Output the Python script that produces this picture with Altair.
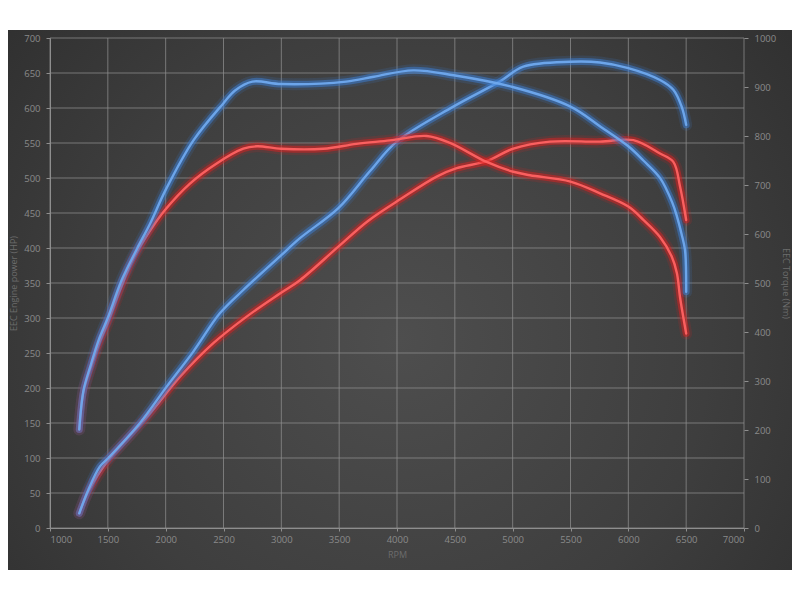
import altair as alt
import pandas as pd

# ---- data ----
tuned_power_rpm = [1253, 1330, 1432, 1504, 1778, 2009, 2239, 2470, 2671, 2988, 3161, 3493, 3767,
                   3997, 4487, 4890, 5092, 5496, 5755, 6000, 6274, 6389, 6461, 6500]
tuned_power_hp = [21, 54, 88, 100, 150, 202, 252, 307, 340, 388, 414, 457, 510,
                  552, 602, 638, 659, 666, 665, 657, 640, 626, 602, 576]

stock_power_rpm = [1253, 1330, 1504, 1865, 2124, 2412, 2700, 2988, 3161, 3493, 3752, 4041, 4343,
                   4516, 4775, 5006, 5323, 5755, 6043, 6274, 6389, 6447, 6500]
stock_power_hp = [21, 52, 97, 164, 216, 264, 302, 335, 354, 402, 439, 471, 502,
                  514, 524, 542, 552, 552, 554, 535, 523, 488, 440]

tuned_torque_rpm = [1253, 1290, 1350, 1420, 1500, 1620, 1750, 1865, 2000, 2240, 2500, 2600, 2750,
                    3000, 3560, 3800, 4140, 4490, 5000, 5500, 5760, 6000, 6130, 6275, 6380, 6420,
                    6460, 6490, 6500]
tuned_torque_nm = [201, 281, 331, 383, 429, 506, 569, 621, 690, 791, 867, 893, 911,
                   906, 911, 921, 934, 924, 900, 860, 819, 779, 750, 714, 664, 636,
                   600, 567, 482]

stock_torque_rpm = [1253, 1290, 1350, 1420, 1500, 1605, 1720, 1865, 1994, 2210, 2441, 2671, 2790,
                    3000, 3363, 3650, 3940, 4256, 4458, 4775, 5006, 5150, 5500, 5755, 6000, 6130,
                    6274, 6375, 6420, 6447, 6500]
stock_torque_nm = [201, 279, 326, 374, 420, 486, 550, 607, 649, 703, 744, 774, 779,
                   774, 774, 784, 791, 800, 786, 747, 727, 720, 707, 683, 656, 629,
                   594, 554, 520, 471, 397]

x_ticks = list(range(1000, 7001, 500))
hp_ticks = list(range(0, 701, 50))
nm_ticks = list(range(0, 1001, 100))

W, H = 694, 490

label_color = "#8a8a8a"
title_color = "#6c6c6c"
grid_color = "#8e8e8e"
font = "Open Sans"

x_scale = alt.Scale(domain=[1000, 7000], nice=False, zero=False)
hp_scale = alt.Scale(domain=[0, 700], nice=False)
nm_scale = alt.Scale(domain=[0, 1000], nice=False)

x_enc = alt.X(
    "rpm:Q", scale=x_scale,
    axis=alt.Axis(values=x_ticks, title="RPM", format="d", grid=False, zindex=1,
                  domainColor=grid_color, tickColor=grid_color, tickSize=3, labelPadding=3,
                  titleX=W / 2, titleY=22, titleAlign="center"),
)

y_hp = alt.Y(
    "hp:Q", scale=hp_scale,
    axis=alt.Axis(values=hp_ticks, orient="left", title="EEC Engine power (HP)", grid=False,
                  format="d", zindex=1, domainColor=grid_color, tickColor=grid_color,
                  tickSize=4, labelPadding=6, titleAngle=-90, titleX=-37, titleY=H / 2,
                  titleAlign="center", titleBaseline="middle"),
)

y_nm = alt.Y(
    "nm:Q", scale=nm_scale,
    axis=alt.Axis(values=nm_ticks, orient="right", title="EEC Torque (Nm)", grid=False,
                  format="d", zindex=1, domain=False, tickColor=grid_color, tickSize=4,
                  labelPadding=6, titleAngle=90, titleX=41, titleY=H / 2,
                  titleAlign="center", titleBaseline="middle"),
)

gradient = alt.RadialGradient(
    gradient="radial",
    x1=0.5, y1=0.55, r1=0,
    x2=0.5, y2=0.55, r2=0.72,
    stops=[alt.GradientStop(color="#4e4e4e", offset=0),
           alt.GradientStop(color="#3e3e3e", offset=0.55),
           alt.GradientStop(color="#2c2c2c", offset=1)],
)

bg = alt.Chart(pd.DataFrame({"a": [0]})).mark_rect(color=gradient).encode(
    x=alt.value(-42), x2=alt.value(742), y=alt.value(-8), y2=alt.value(532)
)

vgrid = alt.Chart(pd.DataFrame({"rpm": x_ticks})).mark_rule(
    color=grid_color, opacity=0.75, strokeWidth=1
).encode(x=x_enc)
hgrid = alt.Chart(pd.DataFrame({"hp": hp_ticks})).mark_rule(
    color=grid_color, opacity=0.75, strokeWidth=1
).encode(y=y_hp)

BLUE_GLOW, BLUE_CORE = "#3b7fd8", "#6fa9ee"
RED_GLOW, RED_CORE = "#dd1f1f", "#ff6262"


def glow_layers(df, yenc, glow, core):
    out = []
    for w, o, c in [(12, 0.15, glow), (7, 0.5, glow), (2.4, 0.95, core)]:
        out.append(
            alt.Chart(df).mark_line(strokeWidth=w, opacity=o, color=c,
                                    interpolate="catmull-rom", strokeCap="round",
                                    strokeJoin="round")
            .encode(x=x_enc, y=yenc)
        )
    return out


df_tp = pd.DataFrame({"rpm": tuned_power_rpm, "hp": tuned_power_hp})
df_sp = pd.DataFrame({"rpm": stock_power_rpm, "hp": stock_power_hp})
df_tt = pd.DataFrame({"rpm": tuned_torque_rpm, "nm": tuned_torque_nm})
df_st = pd.DataFrame({"rpm": stock_torque_rpm, "nm": stock_torque_nm})

power = alt.layer(vgrid, hgrid,
                  *glow_layers(df_sp, y_hp, RED_GLOW, RED_CORE),
                  *glow_layers(df_tp, y_hp, BLUE_GLOW, BLUE_CORE))
torque = alt.layer(*glow_layers(df_st, y_nm, RED_GLOW, RED_CORE),
                   *glow_layers(df_tt, y_nm, BLUE_GLOW, BLUE_CORE))

chart = (
    alt.layer(bg, power, torque)
    .resolve_scale(y="independent")
    .properties(width=W, height=H, autosize=alt.AutoSizeParams(type="none"),
                padding={"left": 42, "top": 30, "right": 48, "bottom": 42})
    .configure(background="white")
    .configure_view(strokeWidth=0)
    .configure_axis(labelColor=label_color, labelFont=font, labelFontSize=9.5,
                    titleColor=title_color, titleFont=font, titleFontSize=9,
                    titleFontWeight="normal")
)

chart.save("out.html", embed_options={"renderer": "svg", "actions": False})
